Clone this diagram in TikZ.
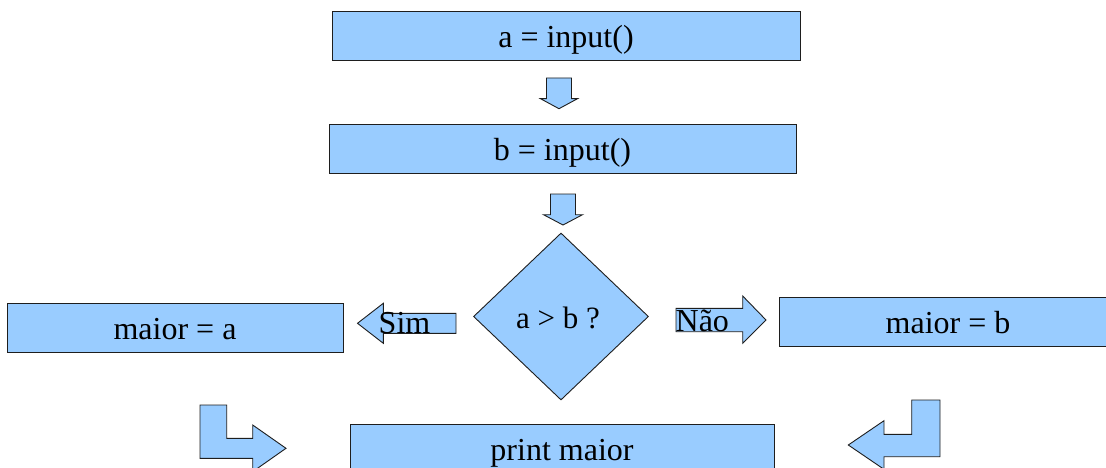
\documentclass[tikz,border=0pt]{standalone}
\usepackage{fontspec}
\setmainfont{Liberation Serif}
\usetikzlibrary{shapes.geometric}
\definecolor{flowfill}{HTML}{99CCFF}
\definecolor{flowline}{HTML}{1E1E1E}
\begin{document}
\begin{tikzpicture}[x=1pt,y=-1pt,
  shapeline/.style={draw=flowline, fill=flowfill, line width=0.9pt, line join=miter},
  box/.style={shapeline, rectangle, inner sep=0pt, minimum height=49pt,
    text height=24pt, text depth=0pt, font=\fontsize{32}{38}\selectfont},
  decision/.style={shapeline, diamond, inner sep=0pt,
    text height=24pt, text depth=0pt, font=\fontsize{31}{37}\selectfont},
  blockarrow/.style={shapeline},
  arrowlabel/.style={inner sep=0pt, anchor=base, font=\fontsize{32}{38}\selectfont}]

% page frame
\useasboundingbox (0,0) rectangle (1106,468);
\fill[white] (0,0) rectangle (1106,468);
\clip (0,0) rectangle (1106,468);

% process boxes
\node[box, minimum width=468pt] (inA)   at (566,35.5)  {a = input()};
\node[box, minimum width=467pt] (inB)   at (562.5,148.5) {b = input()};
\node[box, minimum width=336pt] (maxA)  at (175,327.5) {maior = a};
\node[box, minimum width=338pt] (maxB)  at (948,321.5) {maior = b};
\node[box, minimum width=424pt] (out)   at (562,448.5) {print maior};

% decision
\node[decision, minimum width=175pt, minimum height=167pt] (cond) at (561,316.5) {\kern-6pt a > b ?};

% down arrows between the input boxes and the decision
\draw[blockarrow] (546.5,78) -- (571.5,78) -- (571.5,98.7) -- (577.5,98.7)
  -- (559,108.7) -- (540.5,98.7) -- (546.5,98.7) -- cycle;
\draw[blockarrow] (550.5,194) -- (575.5,194) -- (575.5,214.7) -- (582.5,214.7)
  -- (563,225) -- (543.5,214.7) -- (550.5,214.7) -- cycle;

% branch arrows
\draw[blockarrow] (456,313.3) -- (383.3,313.3) -- (383.3,303.3) -- (357.5,323.3)
  -- (383.3,343.3) -- (383.3,333.3) -- (456,333.3) -- cycle;
\draw[blockarrow] (676,308.3) -- (742.7,308.3) -- (742.7,296) -- (766,320)
  -- (742.7,343.3) -- (742.7,331.7) -- (676,331.7) -- cycle;
\node[arrowlabel] (yes) at (404.5,333.3) {Sim};
\node[arrowlabel] (no)  at (702.3,331.7) {Não};

% bent arrows into the output box
\draw[blockarrow] (200,405) -- (226.7,405) -- (226.7,438.3) -- (252.7,438.3)
  -- (252.7,425) -- (286,448.3) -- (252.7,471.7) -- (252.7,458.3) -- (200,458.3) -- cycle;
\draw[blockarrow] (940,400) -- (940,456.7) -- (884,456.7) -- (884,469.3)
  -- (848.3,445) -- (884,420.7) -- (884,434.3) -- (911.7,434.3) -- (911.7,400) -- cycle;
\end{tikzpicture}
\end{document}
